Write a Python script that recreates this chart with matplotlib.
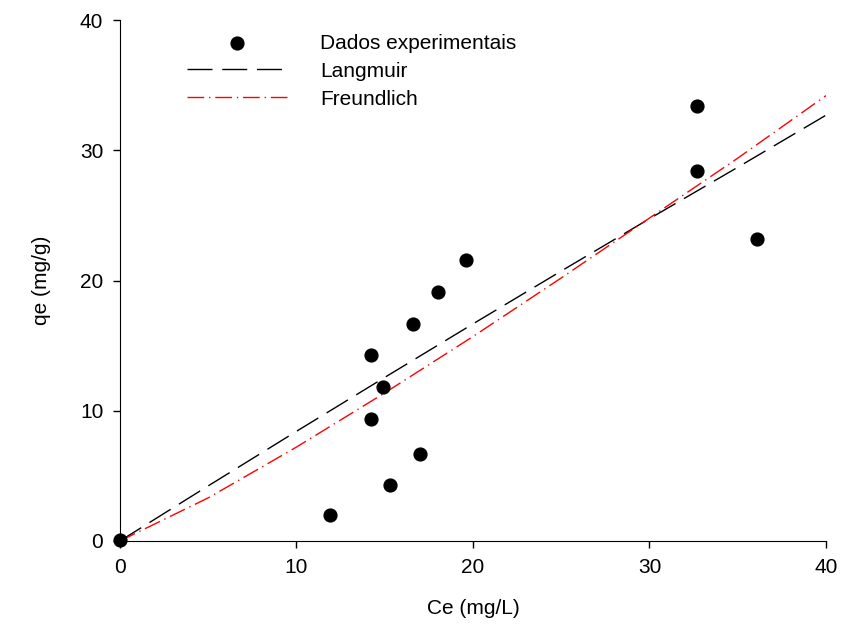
import numpy as np
import matplotlib.pyplot as plt

plt.rcParams['font.family'] = ['Liberation Sans', 'DejaVu Sans']

# experimental points
ce_exp = [0.0, 11.9, 14.2, 14.2, 14.9, 15.3, 16.6, 17.0, 18.0, 19.6, 32.7, 32.7, 36.1]
qe_exp = [0.1, 2.0, 14.3, 9.4, 11.8, 4.3, 16.7, 6.7, 19.1, 21.6, 33.4, 28.4, 23.2]

# model curves
ce_fit = [0, 5, 10, 15, 20, 25, 30, 35, 40]
qe_langmuir = [0.0, 4.23, 8.42, 12.56, 16.67, 20.73, 24.75, 28.7, 32.7]
qe_freundlich = [0.0, 3.31, 7.21, 11.37, 15.7, 20.2, 24.8, 29.4, 34.2]

fig = plt.figure(figsize=(8.42, 6.29), dpi=100)
ax = fig.add_axes([0.1425, 0.140, 0.8385, 0.828])

ax.scatter(ce_exp, qe_exp, s=85, color='black', zorder=5, clip_on=False,
           label='Dados experimentais')
ax.plot(ce_fit, qe_langmuir, color='black', lw=1, dashes=(18, 7),
        label='Langmuir')
ax.plot(ce_fit, qe_freundlich, color='red', lw=1, dashes=(12, 3.5, 1, 3.5),
        label='Freundlich')

ax.set_xlim(0, 40)
ax.set_ylim(0, 40)
ax.set_xticks([0, 10, 20, 30, 40])
ax.set_yticks([0, 10, 20, 30, 40])
ax.spines['top'].set_visible(False)
ax.spines['right'].set_visible(False)
ax.tick_params(direction='out', length=5, width=1, labelsize=15, pad=7)
ax.set_xlabel('Ce (mg/L)', fontsize=15, labelpad=16)
ax.set_ylabel('qe (mg/g)', fontsize=15, labelpad=21)

ax.legend(loc='upper left', bbox_to_anchor=(0.083, 0.99), frameon=False,
          fontsize=15, handlelength=4.8, handletextpad=1.6, labelspacing=0.43,
          borderaxespad=0, scatterpoints=1)

plt.savefig('out.png', dpi=100)
